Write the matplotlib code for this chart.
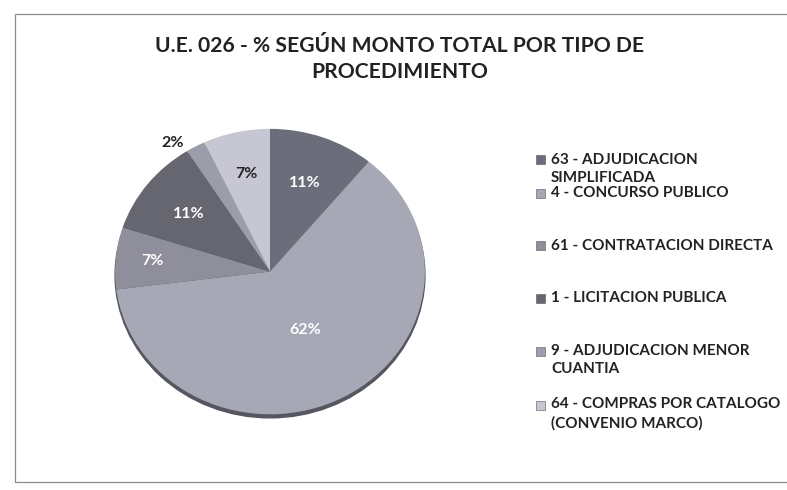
import numpy as np
import matplotlib.pyplot as plt
from matplotlib.patches import Ellipse, Rectangle

plt.rcParams['font.family'] = ['Lato', 'DejaVu Sans']

# data
titulo = "U.E. 026 - % SEGÚN MONTO TOTAL POR TIPO DE\nPROCEDIMIENTO"
procedimientos = ["63 - ADJUDICACION\nSIMPLIFICADA",
                  "4 - CONCURSO PUBLICO",
                  "61 - CONTRATACION DIRECTA",
                  "1 - LICITACION PUBLICA",
                  "9 - ADJUDICACION MENOR\nCUANTIA",
                  "64 - COMPRAS POR CATALOGO\n(CONVENIO MARCO)"]
porcentajes = [11, 62, 7, 11, 2, 7]

colores = ["#6c6d7b", "#a7a8b6", "#8e8f9b", "#65666f", "#9c9daa", "#c6c7d3"]
color_texto = ["white", "white", "white", "white", "#222222", "#222222"]
radio_texto = [0.66, 0.47, 0.76, 0.66, 1.10, 0.70]
giro_texto = [0, 0, 0, 0, 6, 0]   # small angular nudge for the outside label

fig = plt.figure(figsize=(7.87, 4.90), dpi=100)
fig.patch.set_facecolor("white")

# chart frame
fig.add_artist(Rectangle((15 / 787, 1 - 482 / 490), 1.0, (482 - 14) / 490,
                         transform=fig.transFigure, fill=False,
                         edgecolor="#8a8a95", linewidth=0.9))

fig.text(400 / 787, 1 - 59 / 490, titulo, ha="center", va="center",
         fontsize=15.2, fontweight="bold", color="#222222", linespacing=1.4)

# pie drawn as slightly flattened ellipse
ax = fig.add_axes([112 / 787, 70 / 490, 316 / 787, 294 / 490])
ax.add_patch(Ellipse((0.0, -0.025), 2.0, 2.0, color="#55565f", zorder=0))
wedges, _ = ax.pie(porcentajes, colors=colores, startangle=90,
                   counterclock=False, radius=1.0)
for w in wedges:
    w.set_zorder(1)
ax.set_aspect("auto")
ax.set_xlim(-1.02, 1.02)
ax.set_ylim(-1.04, 1.02)
ax.axis("off")

for w, p, c, r, g in zip(wedges, porcentajes, color_texto, radio_texto, giro_texto):
    ang = np.deg2rad((w.theta1 + w.theta2) / 2 + g)
    ax.text(r * np.cos(ang), r * np.sin(ang), f"{p}%", ha="center",
            va="center", fontsize=11.5, fontweight="bold", color=c, zorder=3)

# legend
y_items = [169, 193, 246, 298, 360, 414]
for lab, col, y in zip(procedimientos, colores, y_items):
    n = lab.count("\n") + 1
    y0 = y - (n - 1) * 9
    fig.add_artist(Rectangle((536 / 787, 1 - (y0 + 4.5) / 490), 9 / 787, 9 / 490,
                             transform=fig.transFigure, facecolor=col,
                             edgecolor="#555560", linewidth=0.4))
    fig.text(551 / 787, 1 - y / 490, lab, ha="left", va="center",
             fontsize=11, fontweight="bold", color="#222222", linespacing=1.45)

fig.savefig("out.png", dpi=100)
